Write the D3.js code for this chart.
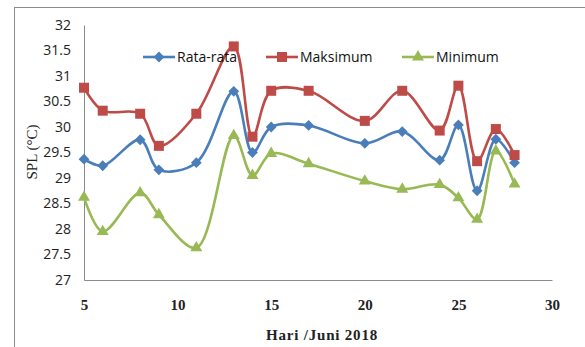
<!DOCTYPE html>
<html>
<head>
<meta charset="utf-8">
<script src="https://cdn.jsdelivr.net/npm/d3@7"></script>
<style>
  html, body { margin: 0; padding: 0; background: #fff; }
  svg { display: block; }
</style>
</head>
<body>
<svg id="chart" width="585" height="347"></svg>
<script>
// Days of June 2018 on which the sea surface temperature was recorded
const days = [5, 6, 8, 9, 11, 13, 14, 15, 17, 20, 22, 24, 25, 26, 27, 28];

// SPL (°C) per day
const rataRata = [29.37, 29.24, 29.75, 29.16, 29.30, 30.70, 29.50, 30.00, 30.03, 29.68, 29.91, 29.35, 30.04, 28.75, 29.76, 29.30];
const maksimum = [30.77, 30.32, 30.26, 29.63, 30.26, 31.58, 29.81, 30.71, 30.71, 30.12, 30.71, 29.93, 30.81, 29.33, 29.96, 29.45];
const minimum  = [28.62, 27.95, 28.71, 28.28, 27.63, 29.83, 29.05, 29.48, 29.28, 28.94, 28.78, 28.87, 28.61, 28.19, 29.53, 28.88];

const xTicks = [5, 10, 15, 20, 25, 30];
const yTicks = [27, 27.5, 28, 28.5, 29, 29.5, 30, 30.5, 31, 31.5, 32];

const seriesNames = ["Rata-rata", "Maksimum", "Minimum"];
const seriesValues = [rataRata, maksimum, minimum];
const seriesColors = ["#4A7EBB", "#BE4B48", "#98B954"];
const seriesSymbols = [d3.symbolSquare, d3.symbolSquare, d3.symbolTriangle];
const symbolRotations = [45, 0, 0];
const symbolSizes = [58, 100, 62];

const svg = d3.select("#chart");

// Chart frame
svg.append("rect")
  .attr("x", 14.5).attr("y", 7.5)
  .attr("width", 620).attr("height", 400)
  .attr("fill", "none").attr("stroke", "#8c8c8c").attr("stroke-width", 1);

const x = d3.scaleLinear().domain([5, 30]).range([84, 552]);
const y = d3.scaleLinear().domain([27, 32]).range([280, 25]);

// Axes
const xAxis = svg.append("g")
  .attr("transform", `translate(0,${y(27)})`)
  .call(d3.axisBottom(x).tickValues(xTicks).tickSize(0).tickPadding(19).tickFormat(d3.format("d")));
xAxis.select(".domain").attr("stroke", "#8c8c8c");
xAxis.selectAll("text")
  .attr("font-family", "'Liberation Serif', 'Times New Roman', serif")
  .attr("font-weight", "bold")
  .attr("font-size", 15)
  .attr("fill", "#222");

const yAxis = svg.append("g")
  .attr("transform", `translate(${x(5)},0)`)
  .call(d3.axisLeft(y).tickValues(yTicks).tickSize(0).tickPadding(13).tickFormat(d => String(d)));
yAxis.select(".domain").attr("stroke", "#8c8c8c");
yAxis.selectAll("text")
  .attr("font-family", "'Open Sans', 'Liberation Sans', sans-serif")
  .attr("font-size", 14)
  .attr("fill", "#222");

// Axis titles
svg.append("text")
  .attr("x", 322).attr("y", 340)
  .attr("text-anchor", "middle")
  .attr("font-family", "'Liberation Serif', 'Times New Roman', serif")
  .attr("font-weight", "bold")
  .attr("font-size", 15)
  .attr("letter-spacing", 0.8)
  .attr("fill", "#222")
  .text("Hari /Juni 2018");

svg.append("text")
  .attr("transform", "translate(37,152) rotate(-90)")
  .attr("text-anchor", "middle")
  .attr("font-family", "'Liberation Serif', 'Times New Roman', serif")
  .attr("font-size", 15)
  .attr("fill", "#222")
  .text("SPL (°C)");

// Smoothed series lines and markers
const line = d3.line()
  .x(d => x(d[0]))
  .y(d => y(d[1]))
  .curve(d3.curveCatmullRom.alpha(0.5));

const marker = i => d3.symbol().type(seriesSymbols[i]).size(symbolSizes[i]);

seriesValues.forEach((vals, i) => {
  const pts = days.map((d, j) => [d, vals[j]]);
  const g = svg.append("g");
  g.append("path")
    .datum(pts)
    .attr("d", line)
    .attr("fill", "none")
    .attr("stroke", seriesColors[i])
    .attr("stroke-width", 2.6);
  g.selectAll("path.m")
    .data(pts)
    .join("path")
    .attr("class", "m")
    .attr("transform", d => `translate(${x(d[0])},${y(d[1])}) rotate(${symbolRotations[i]})`)
    .attr("d", marker(i))
    .attr("fill", seriesColors[i]);
});

// Legend
const legendX = [143, 266, 402];
seriesNames.forEach((name, i) => {
  const g = svg.append("g").attr("transform", `translate(${legendX[i]},57)`);
  g.append("line")
    .attr("x1", 0).attr("x2", 32)
    .attr("stroke", seriesColors[i]).attr("stroke-width", 2.6);
  g.append("path")
    .attr("transform", `translate(16,0) rotate(${symbolRotations[i]})`)
    .attr("d", marker(i))
    .attr("fill", seriesColors[i]);
  g.append("text")
    .attr("x", 34).attr("y", 5)
    .attr("font-family", "'Open Sans', 'Liberation Sans', sans-serif")
    .attr("font-size", 14)
    .attr("fill", "#111")
    .text(name);
});
</script>
</body>
</html>
